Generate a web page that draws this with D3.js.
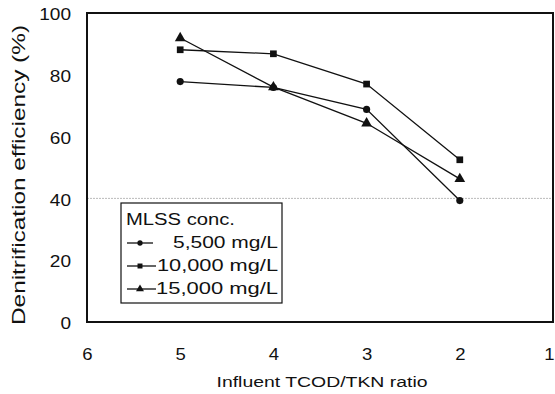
<!DOCTYPE html>
<html>
<head>
<meta charset="utf-8">
<script src="https://cdn.jsdelivr.net/npm/d3@7"></script>
<style>
  body { margin: 0; background: #fff; }
  text { font-family: "Liberation Sans", Arial, sans-serif; fill: #111; }
</style>
</head>
<body>
<div id="chart"></div>
<script>
// data
const ratios = [5, 4, 3, 2];
const mlss_5500 = [77.8, 75.9, 68.8, 39.3];
const mlss_10000 = [88.1, 86.8, 77.0, 52.5];
const mlss_15000 = [91.9, 76.0, 64.3, 46.3];
const seriesNames = ["5,500 mg/L", "10,000 mg/L", "15,000 mg/L"];
const xTicks = [6, 5, 4, 3, 2, 1];
const yTicks = [0, 20, 40, 60, 80, 100];

const width = 555, height = 394;
const margin = {top: 13, right: 2, bottom: 72, left: 87};
const plotW = width - margin.left - margin.right;
const plotH = height - margin.top - margin.bottom;

// widen glyphs a little, the scanned font is broader than Liberation Sans
function stretch(sel, perChar) {
    sel.attr("textLength", function() { return this.textContent.length * perChar; })
       .attr("lengthAdjust", "spacingAndGlyphs");
}

let svg = d3.select("#chart")
    .append("svg")
    .attr("width", width)
    .attr("height", height)
    .append("g")
    .attr("transform", `translate(${margin.left}, ${margin.top})`);

let x = d3.scaleLinear().domain([6, 1]).range([0, plotW]);
let y = d3.scaleLinear().domain([0, 100]).range([plotH, 0]);

// faint dotted gridline at 40
svg.append("line")
    .attr("x1", 0).attr("x2", plotW)
    .attr("y1", y(40)).attr("y2", y(40))
    .attr("stroke", "#aaa")
    .attr("stroke-width", 0.8)
    .attr("stroke-dasharray", "2,1");

// frame
svg.append("rect")
    .attr("width", plotW).attr("height", plotH)
    .attr("fill", "none")
    .attr("stroke", "#111")
    .attr("stroke-width", 2);

// x axis tick labels
let xAxis = svg.append("g")
    .attr("transform", `translate(0, ${plotH})`)
    .call(d3.axisBottom(x).tickValues(xTicks).tickSize(0).tickPadding(0).tickFormat(d3.format("d")));
xAxis.select(".domain").remove();
xAxis.selectAll("text")
    .style("font-size", "16.5px")
    .attr("dy", null)
    .attr("y", 38);
// last label sits at the right edge, keep it inside the window
xAxis.selectAll(".tick").filter(function(d) { return d === 1; })
    .select("text").style("text-anchor", "end").attr("x", 1);
stretch(xAxis.selectAll("text"), 10.3);

// y axis tick labels
let yAxis = svg.append("g")
    .call(d3.axisLeft(y).tickValues(yTicks).tickSize(0).tickPadding(16));
yAxis.select(".domain").remove();
yAxis.selectAll("text").style("font-size", "16.5px").attr("dy", "0.4em");
stretch(yAxis.selectAll("text"), 10.6);

// axis titles
svg.append("text")
    .attr("x", 322 - margin.left)
    .attr("y", 387 - margin.top)
    .style("text-anchor", "middle")
    .style("font-size", "15.5px")
    .attr("textLength", 211)
    .attr("lengthAdjust", "spacingAndGlyphs")
    .text("Influent TCOD/TKN ratio");

svg.append("text")
    .attr("transform", `translate(${25 - margin.left}, ${175 - margin.top}) rotate(-90)`)
    .style("text-anchor", "middle")
    .style("font-size", "17.5px")
    .attr("textLength", 300)
    .attr("lengthAdjust", "spacingAndGlyphs")
    .text("Denitrification efficiency (%)");

// series
let series = [
    {name: seriesNames[0], values: mlss_5500, shape: d3.symbolCircle, size: 40, width: 105},
    {name: seriesNames[1], values: mlss_10000, shape: d3.symbolSquare, size: 45, width: 121},
    {name: seriesNames[2], values: mlss_15000, shape: d3.symbolTriangle, size: 50, width: 122}
];

let line = d3.line()
    .x(function(d) { return x(d[0]); })
    .y(function(d) { return y(d[1]); });

series.forEach(function(s) {
    let pts = ratios.map(function(r, i) { return [r, s.values[i]]; });
    svg.append("path")
        .attr("d", line(pts))
        .attr("fill", "none")
        .attr("stroke", "#111")
        .attr("stroke-width", 1.3);
    svg.selectAll(null)
        .data(pts)
        .enter()
        .append("path")
        .attr("d", d3.symbol().type(s.shape).size(s.size))
        .attr("transform", function(d) { return `translate(${x(d[0])}, ${y(d[1])})`; })
        .attr("fill", "#111");
});

// legend
let legend = svg.append("g")
    .attr("transform", `translate(${121 - margin.left}, ${203 - margin.top})`);

legend.append("rect")
    .attr("width", 161).attr("height", 100)
    .attr("fill", "#fff")
    .attr("stroke", "#111")
    .attr("stroke-width", 1.2);

legend.append("text")
    .attr("x", 5).attr("y", 22)
    .style("font-size", "16px")
    .attr("textLength", 109)
    .attr("lengthAdjust", "spacingAndGlyphs")
    .text("MLSS conc.");

series.forEach(function(s, i) {
    let row = legend.append("g").attr("transform", `translate(0, ${45 + i * 23})`);
    row.append("line")
        .attr("x1", 6).attr("x2", i === 0 ? 32 : 35)
        .attr("y1", -5).attr("y2", -5)
        .attr("stroke", "#111")
        .attr("stroke-width", 1.3);
    row.append("path")
        .attr("d", d3.symbol().type(s.shape).size(s.size * 0.55))
        .attr("transform", "translate(19, -5)")
        .attr("fill", "#111");
    row.append("text")
        .attr("x", 157).attr("y", 0)
        .style("text-anchor", "end")
        .style("font-size", "16px")
        .attr("textLength", s.width)
        .attr("lengthAdjust", "spacingAndGlyphs")
        .text(s.name);
});
</script>
</body>
</html>
